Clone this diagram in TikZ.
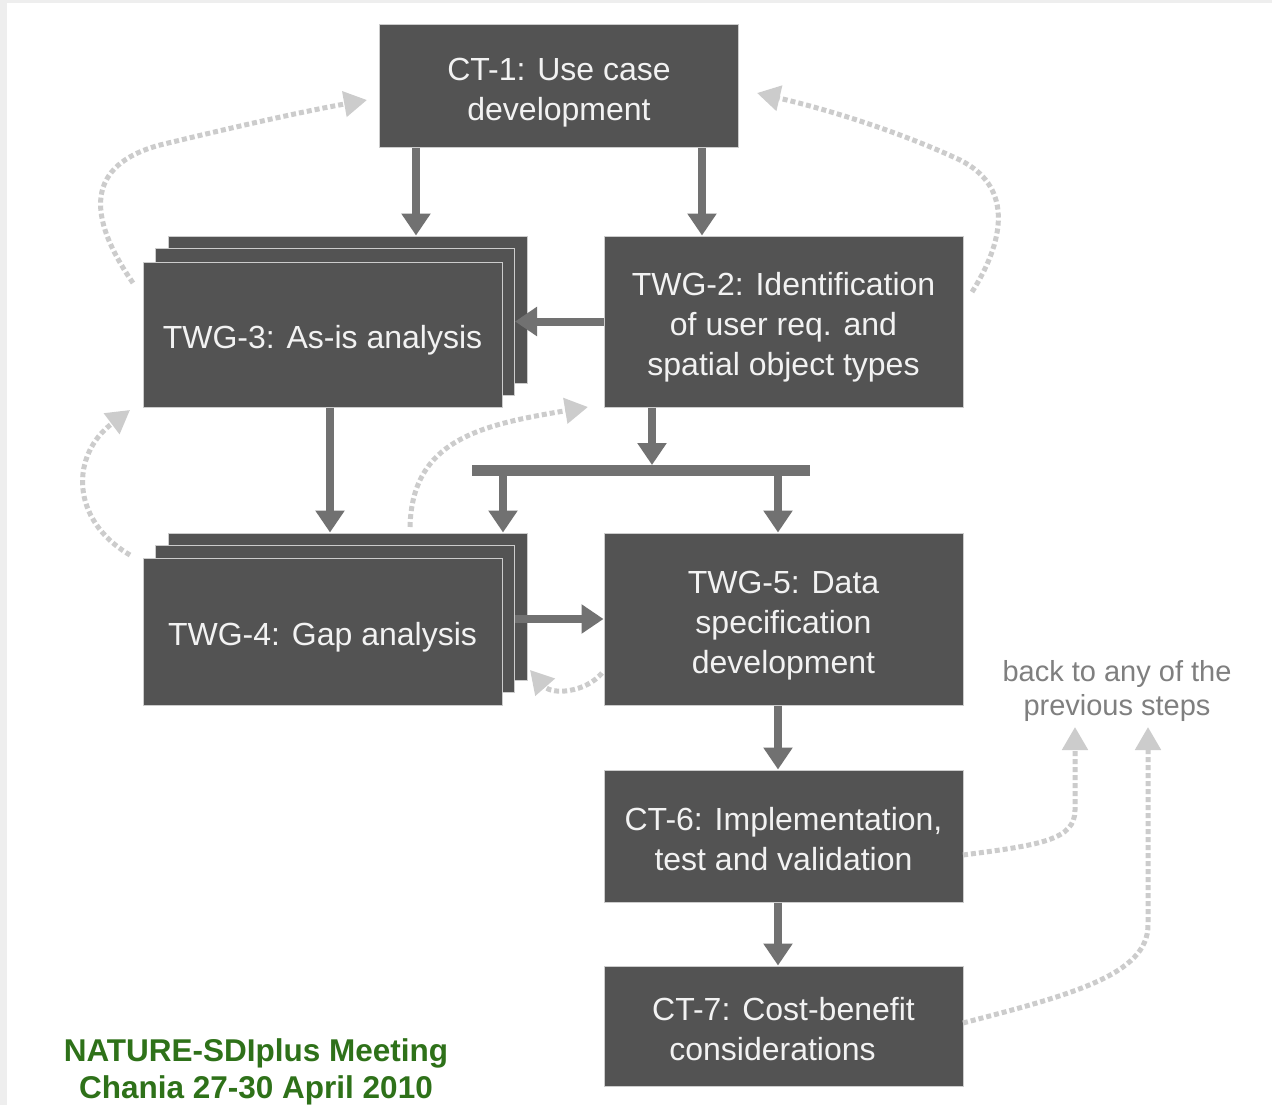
\documentclass[tikz,border=0pt]{standalone}
\usepackage{fontspec}
\setmainfont{Liberation Sans}
\usetikzlibrary{arrows.meta,calc}
\definecolor{boxgray}{HTML}{535353}
\definecolor{flowgray}{HTML}{717171}
\definecolor{loopgray}{HTML}{CCCCCC}
\definecolor{notegray}{HTML}{7F7F7F}
\definecolor{meetgreen}{HTML}{2E7119}
\definecolor{edgegray}{HTML}{EEEEEE}
\newcommand{\boxtext}[1]{\vbox{\vskip12pt\hbox{\begin{tabular}{@{}c@{}}#1\end{tabular}}}}

\begin{document}
\begin{tikzpicture}[x=1pt,y=-1pt,
    phase/.style={fill=boxgray, draw=white!80!black, line width=1pt,
      text=white!95!black, inner sep=0pt,
      font=\fontsize{32}{40}\selectfont, minimum width=359pt},
    flow/.style={draw=flowgray, line width=8pt,
      -{Triangle[width=28pt,length=22pt]}},
    feedback/.style={draw=loopgray, line width=5pt, dash pattern=on 5pt off 3pt,
      -{Triangle[width=25pt,length=23pt]}}]
  \useasboundingbox (0,0) rectangle (1272,1105);
  \fill[edgegray] (0,0) rectangle (1272,1105);
  \fill[white] (7,3) rectangle (1272,1105);

  % boxes
  \node[phase, minimum height=123pt] (ct1) at (559,86.5) {\boxtext{CT-1: Use case\\development}};
  \node[phase, minimum height=147pt] (twg3c) at (347.5,309.5) {};
  \node[phase, minimum height=147pt] (twg3b) at (335,322) {};
  \node[phase, minimum height=145pt] (twg3a) at (322.5,334.5) {\boxtext{TWG-3: As-is analysis}};
  \node[phase, minimum height=171pt] (twg2) at (783.5,321.5)
    {\boxtext{TWG-2: Identification\\of user req. and\\spatial object types}};
  \node[phase, minimum height=147pt] (twg4c) at (347.5,606.5) {};
  \node[phase, minimum height=147pt] (twg4b) at (335,619) {};
  \node[phase, minimum height=147pt] (twg4a) at (322.5,631.5) {\boxtext{TWG-4: Gap analysis}};
  \node[phase, minimum height=172pt] (twg5) at (783.5,619)
    {\boxtext{TWG-5: Data\\specification\\development}};
  \node[phase, minimum height=132pt] (ct6) at (783.5,836)
    {\boxtext{CT-6: Implementation,\\test and validation}};
  \node[phase, minimum height=120pt] (ct7) at (783.5,1026)
    {\boxtext{CT-7: Cost-benefit\\considerations\kern22pt}};

  \node[text=notegray, align=center, font=\fontsize{29}{34}\selectfont] (note)
    at (1117,691) {back to any of the\\previous steps};
  \node[text=meetgreen, align=center, font=\bfseries\fontsize{31.5}{37}\selectfont] (meeting)
    at (256,1072) {NATURE-SDIplus Meeting\\Chania 27-30 April 2010};

  % main flow
  \draw[flow] (416,0 |- ct1.south) -- (416,0 |- twg3c.north);
  \draw[flow] (702,0 |- ct1.south) -- (702,0 |- twg2.north);
  \draw[flow] (twg2.west) -- (twg2.west -| twg3b.east);
  \draw[flow] (330,0 |- twg3a.south) -- (330,0 |- twg4c.north);
  \coordinate (barL) at (472,470.5);
  \coordinate (barR) at (810,470.5);
  \draw[flowgray, line width=11pt] (barL) -- (barR);
  \draw[flow] (652,0 |- twg2.south) -- (652,465);
  \draw[flow] (503,476) -- (503,0 |- twg4c.north);
  \draw[flow] (778,476) -- (778,0 |- twg5.north);
  \draw[flow] (twg4b.east) -- (twg5.west);
  \draw[flow] (778,0 |- twg5.south) -- (778,0 |- ct6.north);
  \draw[flow] (778,0 |- ct6.south) -- (778,0 |- ct7.north);

  % loops back
  \draw[feedback] (133,283) .. controls (86,215) and (86,165) .. (160,145)
    .. controls (230,128) and (300,112) .. (367,100);
  \draw[feedback] (972,292) .. controls (1008,235) and (1010,185) .. (960,160)
    .. controls (900,132) and (830,110) .. (757,93);
  \draw[feedback] (130,555) .. controls (70,520) and (70,455) .. (130,410);
  \draw[feedback] (410,527) .. controls (412,440) and (480,425) .. (588,407);
  \draw[feedback] (602,673) .. controls (585,693) and (552,695) .. (530,670);
  \draw[feedback] (963,855) .. controls (1040,845) and (1075,840) .. (1075,810)
    -- (1075,727);
  \draw[feedback] (963,1023) .. controls (1070,995) and (1148,975) .. (1148,925)
    -- (1148,727);
\end{tikzpicture}
\end{document}
